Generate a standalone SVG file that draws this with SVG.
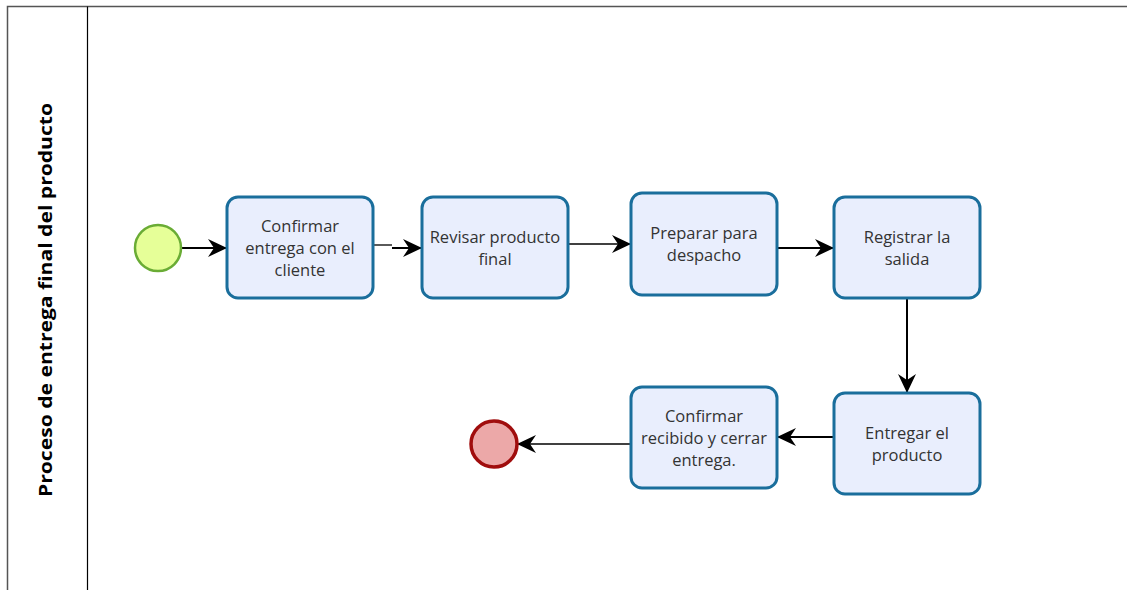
<svg xmlns="http://www.w3.org/2000/svg" width="1127" height="590" viewBox="0 0 1127 590">
  <style>
    .task rect { fill: #e9eefd; stroke: #1a6e9c; stroke-width: 3; }
    .task text { font-family: "Open Sans", "Noto Sans", "Liberation Sans", sans-serif; font-size: 16.5px; fill: #333333; text-anchor: middle; }
    .flow { fill: none; stroke: #000000; stroke-width: 2; }
    .thin { stroke-width: 1.3; }
    .pool { fill: none; stroke: #555555; stroke-width: 1.5; }
    .lane { fill: none; stroke: #000000; stroke-width: 1.2; }
  </style>
  <defs>
    <marker id="arrow" markerWidth="20" markerHeight="18" viewBox="0 0 20 18" refX="19" refY="9" orient="auto" markerUnits="userSpaceOnUse">
      <path d="M0,0 L19,9 L0,18 L6,9 Z" fill="#000000"/>
    </marker>
  </defs>

  <rect width="1127" height="590" fill="#ffffff"/>

  <!-- pool and lane -->
  <g id="pool">
    <path class="pool" d="M7.5,600 L7.5,6.5 L1140,6.5"/>
    <line class="lane" x1="87.5" y1="6.5" x2="87.5" y2="600"/>
    <text transform="translate(52,300) rotate(-90)" font-family="'Open Sans', 'Noto Sans', 'Liberation Sans', sans-serif" font-size="18" font-weight="bold" text-anchor="middle" fill="#000000" textLength="394" lengthAdjust="spacingAndGlyphs">Proceso de entrega final del producto</text>
  </g>

  <!-- sequence flows -->
  <g id="connectors">
    <line class="flow" x1="181" y1="248" x2="227" y2="248" marker-end="url(#arrow)"/>
    <path class="flow thin" d="M373,245 L392,245"/>
    <path class="flow" d="M392,248 L422,248" marker-end="url(#arrow)"/>
    <line class="flow thin" x1="568" y1="244" x2="631" y2="244" marker-end="url(#arrow)"/>
    <line class="flow" x1="777" y1="248" x2="834" y2="248" marker-end="url(#arrow)"/>
    <line class="flow" x1="907" y1="298" x2="907" y2="393" marker-end="url(#arrow)"/>
    <line class="flow" x1="834" y1="437" x2="777" y2="437" marker-end="url(#arrow)"/>
    <line class="flow thin" x1="631" y1="444" x2="517" y2="444" marker-end="url(#arrow)"/>
  </g>

  <!-- events -->
  <g id="start">
    <circle cx="158" cy="248" r="23" fill="#e6ff98" stroke="#6aac35" stroke-width="2.5"/>
  </g>
  <g id="end">
    <circle cx="494" cy="444" r="23" fill="#eca8a8" stroke="#a00d0d" stroke-width="3.5"/>
  </g>

  <!-- tasks -->
  <g id="task1" class="task">
    <rect x="227" y="197" width="146" height="101" rx="11"/>
    <text x="300" y="232">Confirmar</text>
    <text x="300" y="254">entrega con el</text>
    <text x="300" y="276">cliente</text>
  </g>
  <g id="task2" class="task">
    <rect x="422" y="197" width="146" height="101" rx="11"/>
    <text x="495" y="243">Revisar producto</text>
    <text x="495" y="265">final</text>
  </g>
  <g id="task3" class="task">
    <rect x="631" y="193" width="146" height="102" rx="11"/>
    <text x="704" y="239">Preparar para</text>
    <text x="704" y="261">despacho</text>
  </g>
  <g id="task4" class="task">
    <rect x="834" y="197" width="146" height="101" rx="11"/>
    <text x="907" y="243">Registrar la</text>
    <text x="907" y="265">salida</text>
  </g>
  <g id="task5" class="task">
    <rect x="834" y="393" width="146" height="101" rx="11"/>
    <text x="907" y="439">Entregar el</text>
    <text x="907" y="461">producto</text>
  </g>
  <g id="task6" class="task">
    <rect x="631" y="387" width="146" height="101" rx="11"/>
    <text x="704" y="422">Confirmar</text>
    <text x="704" y="444">recibido y cerrar</text>
    <text x="704" y="466">entrega.</text>
  </g>
</svg>
